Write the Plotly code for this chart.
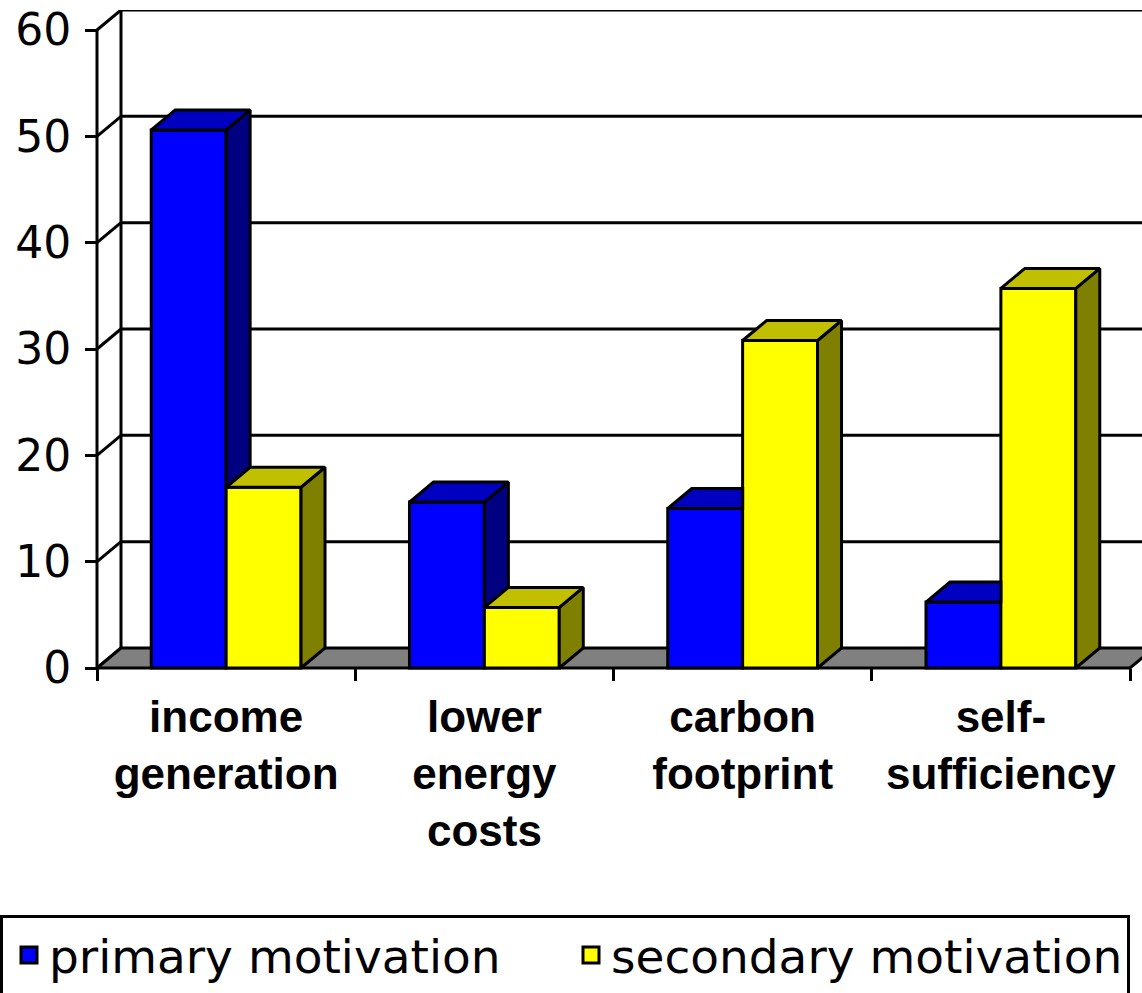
import plotly.graph_objects as go

# ---------------- data ----------------
categories = ["income<br>generation", "lower<br>energy<br>costs", "carbon<br>footprint", "self-<br>sufficiency"]
series_names = ["primary motivation", "secondary motivation"]
primary = [50.6, 15.6, 15.0, 6.2]
secondary = [17.0, 5.7, 30.8, 35.7]
y_ticks = [0, 10, 20, 30, 40, 50, 60]

# ---------------- style ----------------
FRONT = ["#0000FF", "#FFFF00"]
TOP = ["#0000C0", "#C0C000"]
SIDE = ["#000080", "#808000"]
FLOOR = "#808080"
EDGE = dict(color="black", width=3)

W_PX, H_PX = 1142, 993
AX_LEFT_PX, AX_BOTTOM_PX, WALL_TOP_PX = 97, 668, 10
LEGEND_TOP_PX = 915
CAT_PX = 258.25          # pixels per category
DEPTH_X_PX, DEPTH_Y_PX = 24, 20
PAD = 4                  # keep front axis lines away from the clip edge
BAR_W = 0.29

n = len(categories)
ymax = max(y_ticks)
ppu = (AX_BOTTOM_PX - WALL_TOP_PX - DEPTH_Y_PX) / ymax
DX = DEPTH_X_PX / CAT_PX
DY = DEPTH_Y_PX / ppu
x_lo, x_hi = -0.5, n - 0.5
xr = [x_lo - PAD / CAT_PX, x_lo + (W_PX - AX_LEFT_PX) / CAT_PX]
yr = [-PAD / ppu, ymax + DY]

ML = AX_LEFT_PX - PAD
MT = WALL_TOP_PX
MB = H_PX - (AX_BOTTOM_PX + PAD)
plot_w = W_PX - ML
plot_h = H_PX - MT - MB

fig = go.Figure()

# front faces (real bars)
for k, (vals, name) in enumerate([(primary, series_names[0]), (secondary, series_names[1])]):
    fig.add_trace(go.Bar(
        x=list(range(n)), y=vals, base=0,
        offset=-BAR_W if k == 0 else 0, width=BAR_W,
        marker=dict(color=FRONT[k], line=EDGE),
        name=name, showlegend=False,
        hovertemplate=name + ": %{y}<extra></extra>",
    ))

# 3-D faces derived from the data
def poly_trace(polys, color):
    xs, ys = [], []
    for p in polys:
        xs += [q[0] for q in p] + [p[0][0], None]
        ys += [q[1] for q in p] + [p[0][1], None]
    return go.Scatter(x=xs, y=ys, mode="lines", fill="toself", fillcolor=color,
                      line=EDGE, hoverinfo="skip", showlegend=False)

p_side, p_top, s_side, s_top = [], [], [], []
for c, (vp, vs) in enumerate(zip(primary, secondary)):
    w = BAR_W
    s_side.append([(c + w, 0), (c + w + DX, DY), (c + w + DX, vs + DY), (c + w, vs)])
    s_top.append([(c, vs), (c + w, vs), (c + w + DX, vs + DY), (c + DX, vs + DY)])
    if vp > vs:
        p_side.append([(c, vs), (c + DX, vs + DY), (c + DX, vp + DY), (c, vp)])
        p_top.append([(c - w, vp), (c, vp), (c + DX, vp + DY), (c - w + DX, vp + DY)])
    else:
        p_top.append([(c - w, vp), (c, vp), (c, vp + DY), (c - w + DX, vp + DY)])

fig.add_trace(poly_trace(p_side, SIDE[0]))
fig.add_trace(poly_trace(p_top, TOP[0]))
fig.add_trace(poly_trace(s_side, SIDE[1]))
fig.add_trace(poly_trace(s_top, TOP[1]))

# legend entries
for k, name in enumerate(series_names):
    fig.add_trace(go.Scatter(x=[None], y=[None], mode="markers", name=name,
                             marker=dict(symbol="square", size=26, color=FRONT[k],
                                         line=dict(color="black", width=3))))

# walls and floor (below the bars)
shapes = []
line = dict(color="black", width=3)
for v in y_ticks:
    if v > 0:
        shapes.append(dict(type="line", xref="x", yref="y", layer="below",
                           x0=x_lo + DX, x1=xr[1], y0=v + DY, y1=v + DY, line=line))
    shapes.append(dict(type="line", xref="x", yref="y", layer="below",
                       x0=x_lo, x1=x_lo + DX, y0=v, y1=v + DY, line=line))
shapes.append(dict(type="line", xref="x", yref="y", layer="below",
                   x0=x_lo + DX, x1=x_lo + DX, y0=DY, y1=ymax + DY, line=line))
shapes.append(dict(type="path", xref="x", yref="y", layer="below",
                   path=f"M {x_lo},0 L {x_hi},0 L {x_hi + DX},{DY} L {x_lo + DX},{DY} Z",
                   fillcolor=FLOOR, line=line))
shapes.append(dict(type="line", xref="x", yref="y", layer="below",
                   x0=x_lo, x1=x_lo, y0=0, y1=ymax, line=line))

fig.update_layout(
    width=W_PX, height=H_PX,
    margin=dict(l=ML, r=0, t=MT, b=MB, pad=0, autoexpand=False),
    paper_bgcolor="white", plot_bgcolor="white",
    barmode="overlay",
    shapes=shapes,
    showlegend=True,
    legend=dict(orientation="h", xref="paper", yref="paper",
                x=-ML / plot_w, xanchor="left",
                y=(H_PX - MB - LEGEND_TOP_PX) / plot_h, yanchor="top",
                bordercolor="black", borderwidth=3, bgcolor="white",
                font=dict(family="DejaVu Sans", size=47, color="black"),
                entrywidth=511, indentation=6,
                itemclick=False, itemdoubleclick=False),
    xaxis=dict(range=xr, tickmode="array", tickvals=list(range(n)), ticktext=categories,
               ticks="", showgrid=False, zeroline=False, showline=False,
               anchor="free", position=PAD / plot_h, ticklabelstandoff=19,
               tickfont=dict(family="Liberation Sans", size=44, color="black", weight="bold"),
               minor=dict(tickmode="array", tickvals=[x_lo + i for i in range(n + 1)],
                          ticks="outside", ticklen=12, tickwidth=3, tickcolor="black",
                          showgrid=False),
               fixedrange=True),
    yaxis=dict(range=yr, tickmode="array", tickvals=y_ticks,
               ticks="outside", ticklen=12, tickwidth=3, tickcolor="black",
               showgrid=False, zeroline=False, showline=False,
               anchor="free", position=PAD / plot_w, ticklabelstandoff=5,
               tickfont=dict(family="DejaVu Sans", size=44, color="black"),
               fixedrange=True),
)

fig.write_html("out.html", config={"displayModeBar": False},
               post_script="document.body.style.margin='0';document.body.style.overflow='hidden';")
